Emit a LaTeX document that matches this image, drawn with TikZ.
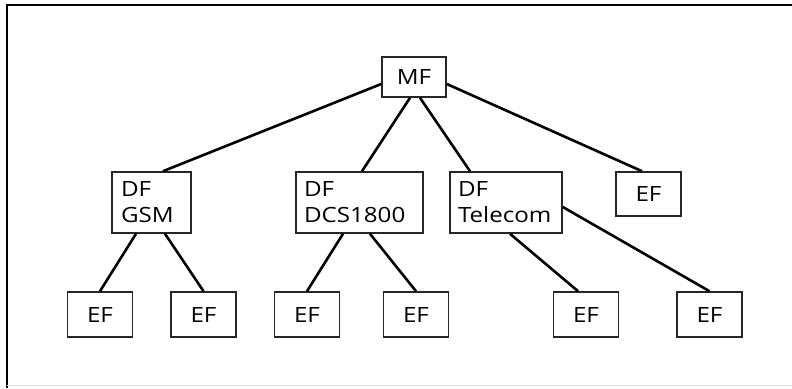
\documentclass[tikz,border=0pt]{standalone}
\usepackage{fontspec}
\setmainfont{Open Sans}[FakeStretch=1.15]
\usepackage{tikz}
\tikzset{
  fbox/.style={draw=black!85, line width=1.6pt, inner sep=0pt,
               font=\fontsize{21}{26}\selectfont},
  efbox/.style={fbox, minimum width=65pt, minimum height=45pt},
  dfbox/.style={fbox, align=left, minimum height=61pt},
  link/.style={line width=2.6pt},
}

\begin{document}
\begin{tikzpicture}[x=1pt, y=-1pt]
\useasboundingbox (0,0) rectangle (792,388);
% ---- frame ----
\draw[line width=1.6pt] (792,5) -- (7,5) -- (7,388);
\draw[black!12, line width=1pt] (7,385) -- (792,385);
% ---- master file ----
\node[efbox, minimum width=64pt, minimum height=40pt] (mf) at (414,77) {MF};
% ---- dedicated files ----
\node[dfbox, minimum width=79pt, text width=61pt] (gsm) at (151.5,202.5) {DF\\GSM};
\node[dfbox, minimum width=127pt, text width=111pt] (dcs) at (359.5,202.5) {DF\\DCS1800};
\node[dfbox, minimum width=112pt, text width=96pt] (tel) at (506,202.5) {DF\\Telecom};
\node[efbox, minimum height=44pt] (efmf) at (648.5,194) {EF};
% ---- elementary files ----
\node[efbox] (efa) at (100,314.5) {EF};
\node[efbox] (efb) at (203.5,314.5) {EF};
\node[efbox] (efc) at (307,314.5) {EF};
\node[efbox] (efd) at (416,314.5) {EF};
\node[efbox] (efe) at (586,314.5) {EF};
\node[efbox] (eff) at (709.5,314.5) {EF};
% ---- links ----
\draw[link] ([yshift=-7pt]mf.west) -- ([xshift=11.5pt]gsm.north);
\draw[link] ([xshift=-4pt]mf.south) -- ([xshift=2.5pt]dcs.north);
\draw[link] ([xshift=6pt]mf.south) -- ([xshift=-36pt]tel.north);
\draw[link] ([yshift=-7pt]mf.east) -- ([xshift=-6.5pt]efmf.north);
\draw[link] ([xshift=-15.5pt]gsm.south) -- (efa.north);
\draw[link] ([xshift=13.5pt]gsm.south) -- (efb.north);
\draw[link] ([xshift=-16.5pt]dcs.south) -- (efc.north);
\draw[link] ([xshift=10.5pt]dcs.south) -- (efd.north);
\draw[link] ([xshift=4pt]tel.south) -- ([xshift=-8pt]efe.north);
\draw[link] ([yshift=-4.5pt]tel.east) -- (eff.north);
\end{tikzpicture}
\end{document}
